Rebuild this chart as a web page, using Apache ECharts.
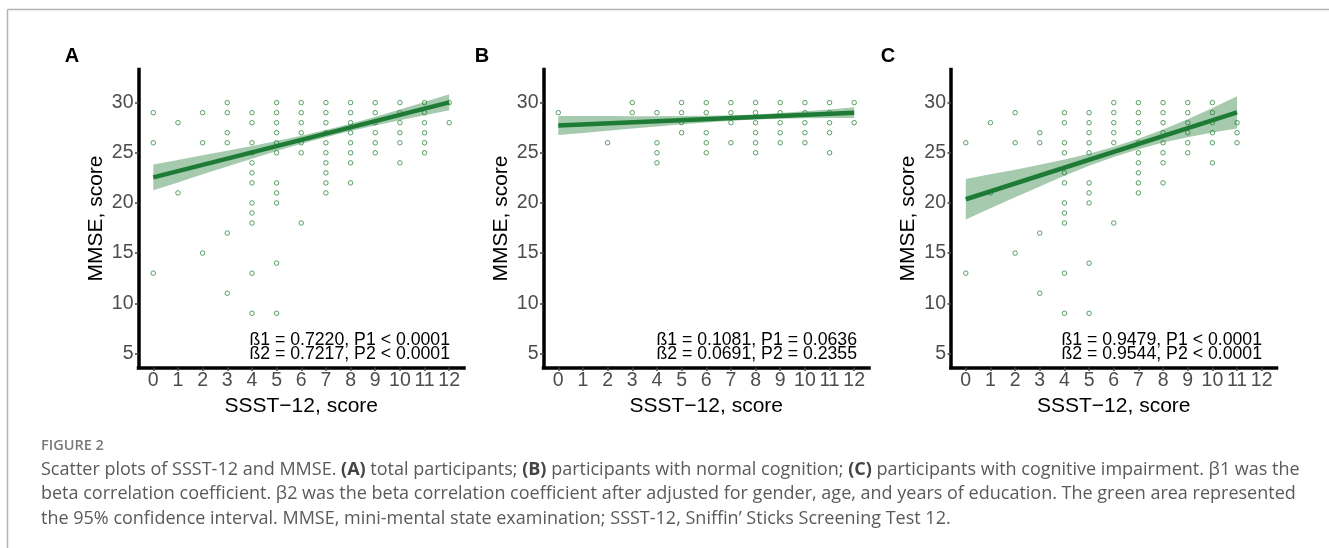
<!DOCTYPE html>
<html>
<head>
<meta charset="utf-8">
<script src="https://cdn.jsdelivr.net/npm/echarts@6/dist/echarts.min.js"></script>
<style>
html, body { margin: 0; padding: 0; background: #fff; }
#chart { width: 1329px; height: 548px; }
</style>
</head>
<body>
<div id="chart"></div>
<script>
// tick labels
var xTicks = [0, 1, 2, 3, 4, 5, 6, 7, 8, 9, 10, 11, 12];
var yTicks = [5, 10, 15, 20, 25, 30];

// (A) total participants : [SSST-12, MMSE]
var pointsA = [
  [0, 29], [0, 26], [0, 13],
  [1, 28], [1, 21],
  [2, 29], [2, 26], [2, 15],
  [3, 30], [3, 29], [3, 27], [3, 26], [3, 17], [3, 11],
  [4, 29], [4, 28], [4, 26], [4, 25], [4, 24], [4, 23], [4, 22], [4, 20], [4, 19], [4, 18], [4, 13], [4, 9],
  [5, 30], [5, 29], [5, 28], [5, 27], [5, 26], [5, 25], [5, 22], [5, 21], [5, 20], [5, 14], [5, 9],
  [6, 30], [6, 29], [6, 28], [6, 27], [6, 26], [6, 25], [6, 18],
  [7, 30], [7, 29], [7, 28], [7, 27], [7, 26], [7, 25], [7, 24], [7, 23], [7, 22], [7, 21],
  [8, 30], [8, 29], [8, 28], [8, 27], [8, 26], [8, 25], [8, 24], [8, 22],
  [9, 30], [9, 29], [9, 28], [9, 27], [9, 26], [9, 25],
  [10, 30], [10, 29], [10, 28], [10, 27], [10, 26], [10, 24],
  [11, 30], [11, 29], [11, 28], [11, 27], [11, 26], [11, 25],
  [12, 30], [12, 28]
];
// (B) normal cognition
var pointsB = [
  [0, 29],
  [2, 26],
  [3, 30], [3, 29],
  [4, 29], [4, 26], [4, 25], [4, 24],
  [5, 30], [5, 29], [5, 28], [5, 27],
  [6, 30], [6, 29], [6, 27], [6, 26], [6, 25],
  [7, 30], [7, 29], [7, 28], [7, 26],
  [8, 30], [8, 29], [8, 28], [8, 27], [8, 26], [8, 25],
  [9, 30], [9, 29], [9, 28], [9, 27], [9, 26],
  [10, 30], [10, 29], [10, 28], [10, 27], [10, 26],
  [11, 30], [11, 29], [11, 28], [11, 27], [11, 25],
  [12, 30], [12, 28]
];
// (C) cognitive impairment
var pointsC = [
  [0, 26], [0, 13],
  [1, 28], [1, 21],
  [2, 29], [2, 26], [2, 15],
  [3, 27], [3, 26], [3, 17], [3, 11],
  [4, 29], [4, 28], [4, 26], [4, 25], [4, 23], [4, 22], [4, 20], [4, 19], [4, 18], [4, 13], [4, 9],
  [5, 29], [5, 28], [5, 27], [5, 26], [5, 25], [5, 22], [5, 21], [5, 20], [5, 14], [5, 9],
  [6, 30], [6, 29], [6, 28], [6, 27], [6, 26], [6, 18],
  [7, 30], [7, 29], [7, 28], [7, 27], [7, 26], [7, 25], [7, 24], [7, 23], [7, 22], [7, 21],
  [8, 30], [8, 29], [8, 28], [8, 27], [8, 26], [8, 25], [8, 24], [8, 22],
  [9, 30], [9, 29], [9, 28], [9, 27], [9, 26], [9, 25],
  [10, 30], [10, 29], [10, 28], [10, 27], [10, 26], [10, 24],
  [11, 28], [11, 27], [11, 26]
];

// fitted lines (end points) and 95% CI bands read at each score
var fitA = [[0, 22.55], [12, 30.03]];
var bandXA = [0, 1, 2, 3, 4, 5, 6, 7, 8, 9, 10, 11, 12];
var bandLoA = [21.26, 22.05, 22.85, 23.63, 24.41, 25.17, 25.89, 26.56, 27.17, 27.73, 28.24, 28.74, 29.23];
var bandHiA = [23.84, 24.29, 24.75, 25.21, 25.67, 26.17, 26.69, 27.26, 27.89, 28.59, 29.32, 30.06, 30.83];

var fitB = [[0, 27.71], [12, 29.0]];
var bandXB = [0, 1, 2, 3, 4, 5, 6, 7, 8, 9, 10, 11, 12];
var bandLoB = [26.76, 26.98, 27.2, 27.41, 27.63, 27.84, 28.03, 28.19, 28.32, 28.4, 28.45, 28.46, 28.47];
var bandHiB = [28.66, 28.66, 28.66, 28.65, 28.65, 28.66, 28.69, 28.73, 28.82, 28.96, 29.13, 29.32, 29.53];

var fitC = [[0, 20.37], [11, 29.03]];
var bandXC = [0, 1, 2, 3, 4, 5, 6, 7, 8, 9, 10, 11];
var bandLoC = [18.35, 19.46, 20.56, 21.65, 22.72, 23.71, 24.59, 25.36, 26.02, 26.55, 27.02, 27.43];
var bandHiC = [22.39, 22.86, 23.32, 23.81, 24.32, 24.91, 25.59, 26.4, 27.32, 28.35, 29.46, 30.63];

var statsA = ['ß1 = 0.7220, P1 < 0.0001', 'ß2 = 0.7217, P2 < 0.0001'];
var statsB = ['ß1 = 0.1081, P1 = 0.0636', 'ß2 = 0.0691, P2 = 0.2355'];
var statsC = ['ß1 = 0.9479, P1 < 0.0001', 'ß2 = 0.9544, P2 < 0.0001'];

var caption = [
  'Scatter plots of SSST-12 and MMSE. {b|(A)} total participants; {b|(B)} participants with normal cognition; {b|(C)} participants with cognitive impairment. β1 was the',
  'beta correlation coefficient. β2 was the beta correlation coefficient after adjusted for gender, age, and years of education. The green area represented',
  'the 95% confidence interval. MMSE, mini-mental state examination; SSST-12, Sniffin’ Sticks Screening Test 12.'
];

var panels = [
  { letter: 'A', pts: pointsA, fit: fitA, bx: bandXA, lo: bandLoA, hi: bandHiA, stats: statsA, left: 138.5, letterX: 72, textX: 450 },
  { letter: 'B', pts: pointsB, fit: fitB, bx: bandXB, lo: bandLoB, hi: bandHiB, stats: statsB, left: 543.5, letterX: 482, textX: 857 },
  { letter: 'C', pts: pointsC, fit: fitC, bx: bandXC, lo: bandLoC, hi: bandHiC, stats: statsC, left: 951, letterX: 888, textX: 1262 }
];

var font = '"Liberation Sans", Arial, sans-serif';
var green = '#1e7b35';

var grids = [], xAxes = [], yAxes = [], series = [], graphics = [];

panels.forEach(function (p, i) {
  grids.push({ left: p.left, top: 69.5, width: 325.5, height: 298 });
  xAxes.push({
    gridIndex: i, type: 'value', min: -0.6, max: 12.6,
    splitLine: { show: false },
    axisLine: { show: true, onZero: false, lineStyle: { color: '#000', width: 3.5, cap: 'square' } },
    axisTick: { show: true, customValues: xTicks, length: 3.5, lineStyle: { color: '#444', width: 1.5 } },
    axisLabel: { customValues: xTicks, color: '#4d4d4d', fontSize: 19.5, fontFamily: font, margin: 3 },
    name: 'SSST\u221212, score', nameLocation: 'middle', nameGap: 26,
    nameTextStyle: { color: '#000', fontSize: 21, fontFamily: font }
  });
  yAxes.push({
    gridIndex: i, type: 'value', min: 3.6, max: 33.3,
    splitLine: { show: false },
    axisLine: { show: true, onZero: false, lineStyle: { color: '#000', width: 3.5, cap: 'square' } },
    axisTick: { show: true, customValues: yTicks, length: 3.5, lineStyle: { color: '#444', width: 1.5 } },
    axisLabel: { customValues: yTicks, color: '#4d4d4d', fontSize: 19.5, fontFamily: font, margin: 5 },
    name: 'MMSE, score', nameLocation: 'middle', nameGap: 32,
    nameTextStyle: { color: '#000', fontSize: 21, fontFamily: font }
  });

  series.push({
    type: 'scatter', xAxisIndex: i, yAxisIndex: i,
    data: p.pts, symbol: 'circle', symbolSize: 4.5,
    itemStyle: { color: '#fff', borderColor: '#2f8a3e', borderWidth: 1 },
    silent: true, z: 2
  });

  series.push({
    type: 'custom', xAxisIndex: i, yAxisIndex: i,
    data: [0], silent: true, z: 3,
    renderItem: (function (p) {
      return function (params, api) {
        var up = [], down = [];
        for (var k = 0; k < p.bx.length; k++) {
          up.push(api.coord([p.bx[k], p.hi[k]]));
          down.unshift(api.coord([p.bx[k], p.lo[k]]));
        }
        return {
          type: 'polygon',
          shape: { points: up.concat(down) },
          style: { fill: 'rgba(30,123,53,0.4)' }
        };
      };
    })(p)
  });

  series.push({
    type: 'line', xAxisIndex: i, yAxisIndex: i,
    data: p.fit, showSymbol: false, silent: true, z: 4,
    lineStyle: { color: green, width: 4.5 }
  });

  graphics.push({
    type: 'text', x: p.letterX, y: 56,
    style: { text: p.letter, fontSize: 20, fontWeight: 'bold', fontFamily: font, fill: '#000', textAlign: 'center', textVerticalAlign: 'middle' }
  });
  graphics.push({
    type: 'text', x: p.textX, y: 340,
    style: { text: p.stats[0], fontSize: 17.7, fontFamily: font, fill: '#000', textAlign: 'right', textVerticalAlign: 'middle' }
  });
  graphics.push({
    type: 'text', x: p.textX, y: 354.3,
    style: { text: p.stats[1], fontSize: 17.7, fontFamily: font, fill: '#000', textAlign: 'right', textVerticalAlign: 'middle' }
  });
});

// frame and caption
graphics.push({ type: 'line', shape: { x1: 7.5, y1: 9.5, x2: 1329, y2: 9.5 }, style: { stroke: '#b3b3b3', lineWidth: 1.5 } });
graphics.push({ type: 'line', shape: { x1: 7.5, y1: 9.5, x2: 7.5, y2: 548 }, style: { stroke: '#b3b3b3', lineWidth: 1.5 } });
graphics.push({
  type: 'text', x: 41, y: 446,
  style: { text: 'FIGURE 2', fontSize: 14.5, fontWeight: 600, fontFamily: '"Open Sans"', fill: '#7a7a7a', textVerticalAlign: 'middle' }
});
caption.forEach(function (line, k) {
  graphics.push({
    type: 'text', x: 41, y: 469.5 + k * 24.5,
    style: {
      text: line, fontSize: 18, fontFamily: '"Open Sans"', fill: '#5a5a5a', textVerticalAlign: 'middle',
      rich: { b: { fontWeight: 'bold', fontSize: 18, fontFamily: '"Open Sans"', fill: '#444' } }
    }
  });
});

var myChart = echarts.init(document.getElementById('chart'));
myChart.setOption({
  backgroundColor: '#fff',
  animation: false,
  grid: grids,
  xAxis: xAxes,
  yAxis: yAxes,
  series: series,
  graphic: graphics
});
</script>
</body>
</html>
